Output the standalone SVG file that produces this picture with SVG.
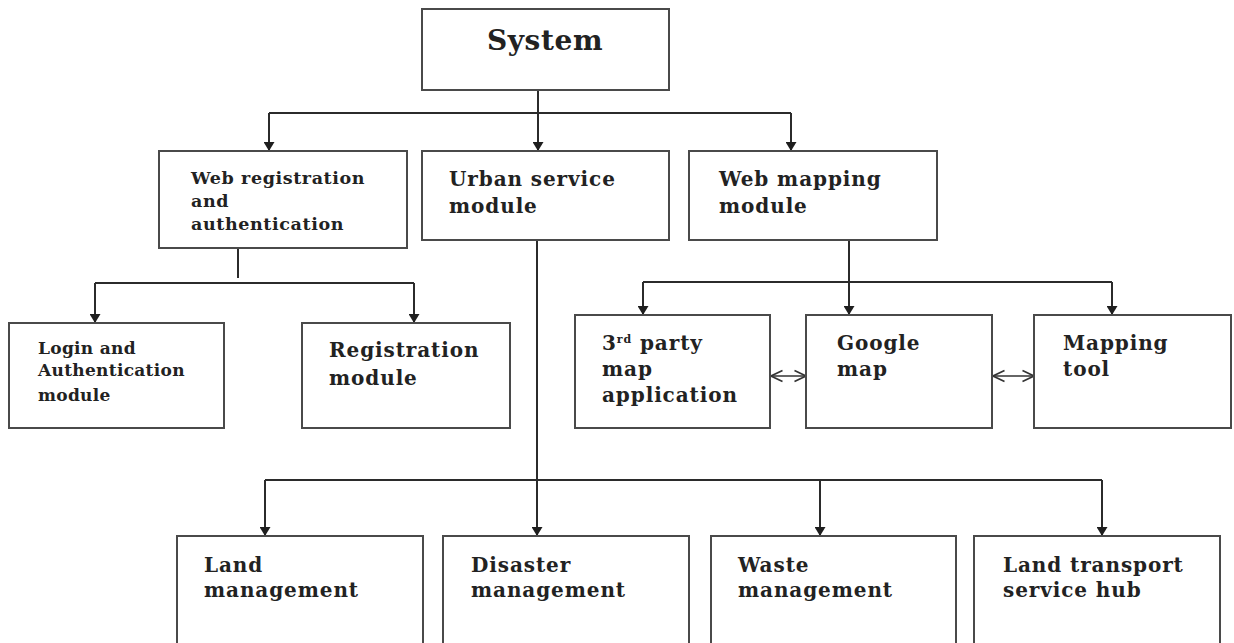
<svg xmlns="http://www.w3.org/2000/svg" width="1234" height="643" viewBox="0 0 1234 643">
  <style>
    .box { fill: #ffffff; stroke: #4a4a4a; stroke-width: 2; }
    .wire { fill: none; stroke: #2b2b2b; stroke-width: 2; }
    .link { fill: none; stroke: #333333; stroke-width: 1.4; }
    text { font-family: "DejaVu Serif", "Liberation Serif", serif; font-weight: bold; fill: #222222; }
    .t20 { font-size: 20px; letter-spacing: 0.9px; }
    .t17 { font-size: 17px; letter-spacing: 0.3px; }
    .t18 { font-size: 17.5px; letter-spacing: 0.6px; }
    .title { font-size: 28px; letter-spacing: 0.6px; }
  </style>
  <defs>
    <marker id="arrow" viewBox="0 0 9 11" refX="9" refY="5.5" markerWidth="9" markerHeight="11" markerUnits="userSpaceOnUse" orient="auto">
      <path d="M0,0 L9,5.5 L0,11 z" fill="#1e1e1e"/>
    </marker>
    <marker id="chevron" viewBox="0 0 13 14" refX="12.5" refY="7" markerWidth="13" markerHeight="14" markerUnits="userSpaceOnUse" orient="auto-start-reverse">
      <path d="M1,1.5 L12.5,7 L1,12.5" fill="none" stroke="#333333" stroke-width="1.6"/>
    </marker>
  </defs>

  <!-- connectors -->
  <g id="connectors">
    <!-- System to second tier -->
    <path class="wire" d="M538,90 V113"/>
    <path class="wire" d="M269,113 H791"/>
    <path class="wire" d="M269,113 V151" marker-end="url(#arrow)"/>
    <path class="wire" d="M538,113 V151" marker-end="url(#arrow)"/>
    <path class="wire" d="M791,113 V151" marker-end="url(#arrow)"/>

    <!-- Web registration branch -->
    <path class="wire" d="M238,248 V278"/>
    <path class="wire" d="M95,283 H414"/>
    <path class="wire" d="M95,283 V323" marker-end="url(#arrow)"/>
    <path class="wire" d="M414,283 V323" marker-end="url(#arrow)"/>

    <!-- Web mapping branch -->
    <path class="wire" d="M849,240 V315" marker-end="url(#arrow)"/>
    <path class="wire" d="M643,282 H1112"/>
    <path class="wire" d="M643,282 V315" marker-end="url(#arrow)"/>
    <path class="wire" d="M1112,282 V315" marker-end="url(#arrow)"/>

    <!-- peer links between mapping components -->
    <path class="link" d="M771,376 H806" marker-start="url(#chevron)" marker-end="url(#chevron)"/>
    <path class="link" d="M993,376 H1034" marker-start="url(#chevron)" marker-end="url(#chevron)"/>

    <!-- Urban service branch -->
    <path class="wire" d="M537,240 V536" marker-end="url(#arrow)"/>
    <path class="wire" d="M265,480 H1102"/>
    <path class="wire" d="M265,480 V536" marker-end="url(#arrow)"/>
    <path class="wire" d="M820,480 V536" marker-end="url(#arrow)"/>
    <path class="wire" d="M1102,480 V536" marker-end="url(#arrow)"/>
  </g>

  <!-- top level -->
  <g id="system">
    <rect class="box" x="422" y="9" width="247" height="81"/>
    <text class="title" x="545" y="50" text-anchor="middle">System</text>
  </g>

  <!-- second tier -->
  <g id="web-registration">
    <rect class="box" x="159" y="151" width="248" height="97"/>
    <text class="t18" x="191" y="184">Web registration</text>
    <text class="t18" x="191" y="207">and</text>
    <text class="t18" x="191" y="230">authentication</text>
  </g>
  <g id="urban-service">
    <rect class="box" x="422" y="151" width="247" height="89"/>
    <text class="t20" x="449" y="186">Urban service</text>
    <text class="t20" x="449" y="213">module</text>
  </g>
  <g id="web-mapping">
    <rect class="box" x="689" y="151" width="248" height="89"/>
    <text class="t20" x="719" y="186">Web mapping</text>
    <text class="t20" x="719" y="213">module</text>
  </g>

  <!-- third tier: registration -->
  <g id="login-auth">
    <rect class="box" x="9" y="323" width="215" height="105"/>
    <text class="t17" x="38" y="354">Login and</text>
    <text class="t17" x="38" y="376">Authentication</text>
    <text class="t17" x="38" y="401">module</text>
  </g>
  <g id="registration">
    <rect class="box" x="302" y="323" width="208" height="105"/>
    <text class="t20" x="329" y="357">Registration</text>
    <text class="t20" x="329" y="385">module</text>
  </g>

  <!-- third tier: mapping -->
  <g id="third-party-map">
    <rect class="box" x="575" y="315" width="195" height="113"/>
    <text class="t20" x="602" y="350">3<tspan font-size="11" dy="-7">rd</tspan><tspan dy="7"> party</tspan></text>
    <text class="t20" x="602" y="376">map</text>
    <text class="t20" x="602" y="402">application</text>
  </g>
  <g id="google-map">
    <rect class="box" x="806" y="315" width="186" height="113"/>
    <text class="t20" x="837" y="350">Google</text>
    <text class="t20" x="837" y="376">map</text>
  </g>
  <g id="mapping-tool">
    <rect class="box" x="1034" y="315" width="197" height="113"/>
    <text class="t20" x="1063" y="350">Mapping</text>
    <text class="t20" x="1063" y="376">tool</text>
  </g>

  <!-- fourth tier: urban services -->
  <g id="land-management">
    <rect class="box" x="177" y="536" width="246" height="120"/>
    <text class="t20" x="204" y="572">Land</text>
    <text class="t20" x="204" y="597">management</text>
  </g>
  <g id="disaster-management">
    <rect class="box" x="443" y="536" width="246" height="120"/>
    <text class="t20" x="471" y="572">Disaster</text>
    <text class="t20" x="471" y="597">management</text>
  </g>
  <g id="waste-management">
    <rect class="box" x="711" y="536" width="245" height="120"/>
    <text class="t20" x="738" y="572">Waste</text>
    <text class="t20" x="738" y="597">management</text>
  </g>
  <g id="land-transport">
    <rect class="box" x="974" y="536" width="246" height="120"/>
    <text class="t20" x="1003" y="572">Land transport</text>
    <text class="t20" x="1003" y="597">service hub</text>
  </g>
</svg>
